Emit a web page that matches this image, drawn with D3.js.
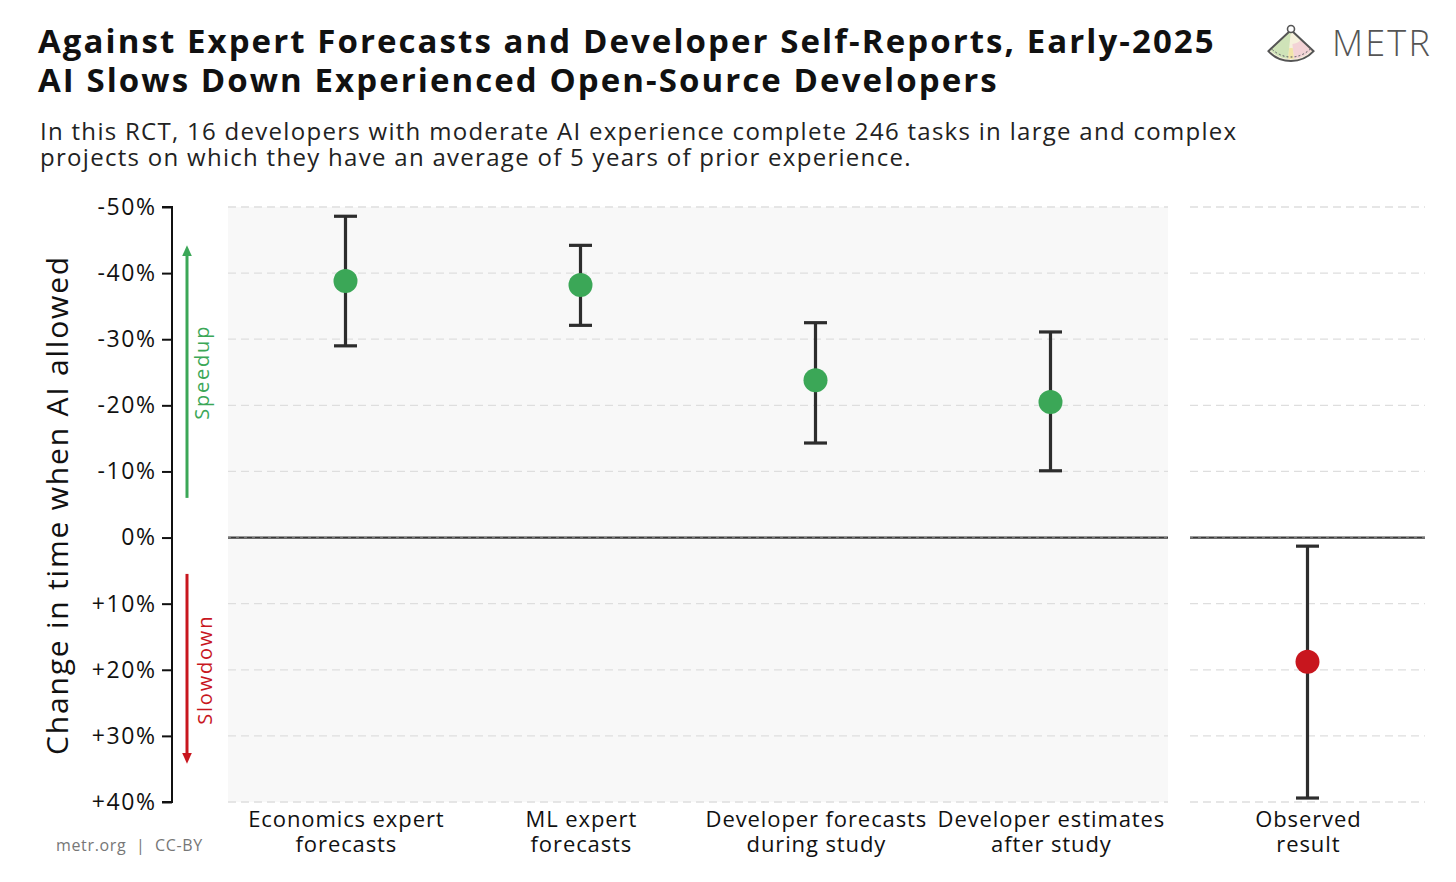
<!DOCTYPE html>
<html>
<head>
<meta charset="utf-8">
<script src="https://cdn.jsdelivr.net/npm/d3@7"></script>
<style>
  html, body { margin: 0; padding: 0; background: #fff; }
  svg { display: block; }
  text { font-family: "Open Sans", "DejaVu Sans", sans-serif; }
</style>
</head>
<body>
<svg id="chart" width="1456" height="882"></svg>
<script>
// ---------- DATA ----------
const categories = ["Economics expert forecasts", "ML expert forecasts", "Developer forecasts during study", "Developer estimates after study"];
const categoryLines = [["Economics expert", "forecasts"], ["ML expert", "forecasts"], ["Developer forecasts", "during study"], ["Developer estimates", "after study"]];
const estimates = [-38.8, -38.2, -23.8, -20.5];
const ciLow = [-48.6, -44.2, -32.5, -31.1];
const ciHigh = [-29.0, -32.1, -14.3, -10.1];

const observedCategory = ["Observed", "result"];
const observedEstimate = [18.8];
const observedLow = [1.3];
const observedHigh = [39.4];

const yTicks = [-50, -40, -30, -20, -10, 0, 10, 20, 30, 40];
const yTickLabels = ["-50%", "-40%", "-30%", "-20%", "-10%", "0%", "+10%", "+20%", "+30%", "+40%"];

const titleLines = ["Against Expert Forecasts and Developer Self-Reports, Early-2025", "AI Slows Down Experienced Open-Source Developers"];
const subtitleLines = ["In this RCT, 16 developers with moderate AI experience complete 246 tasks in large and complex", "projects on which they have an average of 5 years of prior experience."];

// ---------- LAYOUT ----------
const svg = d3.select("#chart");
const green = "#3ba757", red = "#c8161e", dark = "#2d2d2d";

const y = d3.scaleLinear().domain([-50, 40]).range([207, 802]);
const xMain = d3.scaleBand().domain(categories).range([228, 1168]).padding(0);
const xObs = d3.scaleBand().domain(["Observed result"]).range([1190, 1425]).padding(0);

// widen text by letter-spacing to approach the reference's (wider) typeface
function spread(sel, target) {
  const node = sel.node();
  const w = node.getComputedTextLength();
  const n = node.textContent.length;
  const ls = (target - w) / n;
  sel.attr("letter-spacing", ls.toFixed(2));
  return ls;
}

// Titles
const t1 = svg.append("text").attr("x", 38).attr("y", 53).attr("font-size", 33).attr("font-weight", 700).attr("fill", "#111").text(titleLines[0]);
const ls1 = spread(t1, 1178);
svg.append("text").attr("x", 38).attr("y", 92).attr("font-size", 33).attr("font-weight", 700).attr("fill", "#111")
  .attr("letter-spacing", ls1.toFixed(2)).text(titleLines[1]);
const s1 = svg.append("text").attr("x", 40).attr("y", 140).attr("font-size", 24).attr("fill", "#222").text(subtitleLines[0]);
const lss = spread(s1, 1197);
svg.append("text").attr("x", 40).attr("y", 166).attr("font-size", 24).attr("fill", "#222").attr("letter-spacing", lss.toFixed(2)).text(subtitleLines[1]);

// Logo
const logo = svg.append("g").attr("transform", "translate(1291,30)");
const arcGen = d3.arc();
logo.append("path").attr("d", arcGen({innerRadius: 0, outerRadius: 31, startAngle: Math.PI - 0.82, endAngle: Math.PI + 0.82}))
  .attr("fill", "#f6f1dc").attr("stroke", "none");
logo.append("path").attr("d", arcGen({innerRadius: 0, outerRadius: 29, startAngle: Math.PI + 0.1, endAngle: Math.PI + 0.8}))
  .attr("fill", "#cfe3b8");
logo.append("path").attr("d", arcGen({innerRadius: 14, outerRadius: 29, startAngle: Math.PI - 0.8, endAngle: Math.PI - 0.1}))
  .attr("fill", "#f3d3d6");
logo.append("path").attr("d", arcGen({innerRadius: 18, outerRadius: 29, startAngle: Math.PI - 0.1, endAngle: Math.PI + 0.1}))
  .attr("fill", "#f2e5a8");
logo.append("path").attr("d", arcGen({innerRadius: 0, outerRadius: 31, startAngle: Math.PI - 0.82, endAngle: Math.PI + 0.82}))
  .attr("fill", "none").attr("stroke", "#555").attr("stroke-width", 2).attr("stroke-linejoin", "round");
logo.append("path").attr("d", arcGen({innerRadius: 27, outerRadius: 27, startAngle: Math.PI - 0.8, endAngle: Math.PI + 0.8}))
  .attr("fill", "none").attr("stroke", "#777").attr("stroke-width", 1).attr("stroke-dasharray", "1.5,2.5");
logo.append("circle").attr("cx", 0).attr("cy", -1).attr("r", 3.5).attr("fill", "#fff").attr("stroke", "#555").attr("stroke-width", 1.6);
const mt = svg.append("text").attr("x", 1332).attr("y", 56).attr("font-size", 36).attr("font-weight", 300).attr("fill", "#555").text("METR");
spread(mt, 100);

// Panels
svg.append("rect").attr("x", 228).attr("y", y(-50)).attr("width", 940).attr("height", y(40) - y(-50)).attr("fill", "#f8f8f8");

const panels = [[228, 1168], [1190, 1425]];
panels.forEach(([a, b]) => {
  svg.append("g").selectAll("line").data(yTicks.filter(d => d !== 0)).join("line")
    .attr("x1", a).attr("x2", b).attr("y1", d => y(d)).attr("y2", d => y(d))
    .attr("stroke", "#dedede").attr("stroke-width", 1.3).attr("stroke-dasharray", "8,5");
  svg.append("line").attr("x1", a).attr("x2", b).attr("y1", y(0)).attr("y2", y(0))
    .attr("stroke", "#3a3a3a").attr("stroke-width", 2.2);
  svg.append("line").attr("x1", a).attr("x2", b).attr("y1", y(0)).attr("y2", y(0))
    .attr("stroke", "#8a8a8a").attr("stroke-width", 0.8).attr("stroke-dasharray", "3,5");
});

// Y axis
const yAxis = d3.axisLeft(y).tickValues(yTicks).tickFormat((d, i) => yTickLabels[i]).tickSize(10).tickPadding(7);
const ya = svg.append("g").attr("transform", "translate(172,0)").call(yAxis);
ya.select(".domain").attr("stroke", "#111").attr("stroke-width", 2).attr("d", `M-10,${y(-50)}H0V${y(40)}H-10`);
ya.selectAll(".tick line").attr("stroke", "#111").attr("stroke-width", 2);
ya.selectAll(".tick text").attr("font-size", 23).attr("fill", "#111").attr("font-family", "'Open Sans', sans-serif")
  .attr("letter-spacing", 1.6).attr("dx", 1.6);

const yt = svg.append("text").attr("transform", `translate(68,505) rotate(-90)`).attr("text-anchor", "middle")
  .attr("font-size", 30).attr("fill", "#111").text("Change in time when AI allowed");
spread(yt, 500);

// Speedup / Slowdown arrows
const defs = svg.append("defs");
[["ag", green], ["ar", red]].forEach(([id, c]) => {
  defs.append("marker").attr("id", id).attr("viewBox", "0 0 10 10").attr("refX", 5).attr("refY", 5)
    .attr("markerWidth", 4).attr("markerHeight", 4).attr("orient", "auto-start-reverse")
    .append("path").attr("d", "M0,1 L9,5 L0,9 z").attr("fill", c);
});
svg.append("line").attr("x1", 187).attr("x2", 187).attr("y1", y(-6)).attr("y2", y(-43.5))
  .attr("stroke", green).attr("stroke-width", 3).attr("marker-end", "url(#ag)");
const sp = svg.append("text").attr("transform", `translate(209,${y(-25)}) rotate(-90)`).attr("text-anchor", "middle")
  .attr("font-size", 20).attr("fill", green).text("Speedup");
spread(sp, 95);
svg.append("line").attr("x1", 187).attr("x2", 187).attr("y1", y(5.5)).attr("y2", y(33.5))
  .attr("stroke", red).attr("stroke-width", 3).attr("marker-end", "url(#ar)");
const sd = svg.append("text").attr("transform", `translate(212,${y(20)}) rotate(-90)`).attr("text-anchor", "middle")
  .attr("font-size", 20).attr("fill", red).text("Slowdown");
spread(sd, 110);

// Error bars
function drawErr(g, cx, lo, hi, est, color) {
  g.append("line").attr("x1", cx).attr("x2", cx).attr("y1", y(lo)).attr("y2", y(hi)).attr("stroke", dark).attr("stroke-width", 3.2);
  [lo, hi].forEach(v => g.append("line").attr("x1", cx - 11.5).attr("x2", cx + 11.5).attr("y1", y(v)).attr("y2", y(v)).attr("stroke", dark).attr("stroke-width", 3.2));
  g.append("circle").attr("cx", cx).attr("cy", y(est)).attr("r", 12).attr("fill", color);
}
const gm = svg.append("g");
categories.forEach((c, i) => drawErr(gm, xMain(c) + xMain.bandwidth() / 2, ciLow[i], ciHigh[i], estimates[i], green));
drawErr(gm, xObs("Observed result") + xObs.bandwidth() / 2, observedLow[0], observedHigh[0], observedEstimate[0], red);

// X labels
const xl = svg.append("g").attr("font-size", 22).attr("fill", "#111").attr("text-anchor", "middle");
categories.forEach((c, i) => {
  const cx = xMain(c) + xMain.bandwidth() / 2;
  categoryLines[i].forEach((ln, j) => xl.append("text").attr("x", cx + 0.9).attr("y", 827 + j * 25)
    .attr("letter-spacing", 0.9).text(ln));
});
observedCategory.forEach((ln, j) => xl.append("text").attr("x", xObs("Observed result") + xObs.bandwidth() / 2 + 0.9).attr("y", 827 + j * 25)
  .attr("letter-spacing", 0.9).text(ln));

// Footer
const ft = svg.append("text").attr("x", 56).attr("y", 851).attr("font-size", 16).attr("fill", "#777").attr("xml:space", "preserve").text("metr.org  |  CC-BY");
spread(ft, 147);
</script>
</body>
</html>
